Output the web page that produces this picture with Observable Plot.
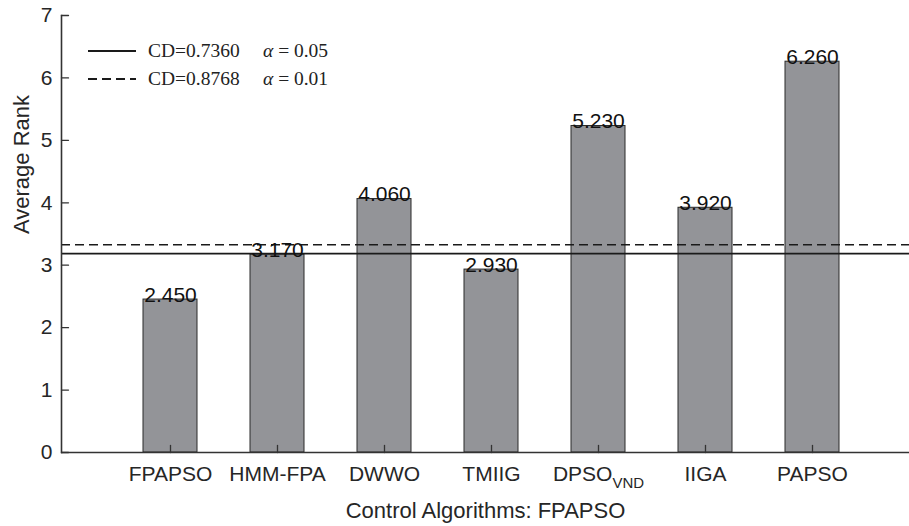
<!DOCTYPE html>
<html><head><meta charset="utf-8">
<script src="https://cdn.jsdelivr.net/npm/d3@7"></script>
<script src="https://cdn.jsdelivr.net/npm/@observablehq/plot@0.6"></script>
<style>
body{margin:0;background:#fff;}
#wrap{position:relative;width:909px;height:526px;}
#legend{position:absolute;left:88px;top:37px;font-family:"Liberation Serif","Times New Roman",serif;font-size:19.5px;color:#222;}
#legend .row{display:flex;align-items:center;height:28px;white-space:nowrap;}
#legend svg{margin-right:12px;}
#legend .cd{display:inline-block;width:115px;}
</style></head><body>
<div id="wrap"><div id="chart"></div><div id="legend"></div></div>
<script>
// ---- data ----
const algorithms = ["FPAPSO", "HMM-FPA", "DWWO", "TMIIG", "DPSO_VND", "IIGA", "PAPSO"];
const avgRanks = [2.450, 3.170, 4.060, 2.930, 5.230, 3.920, 6.260];
const controlRank = 2.450;          // FPAPSO (control algorithm)
const cdValues = [0.7360, 0.8768];
const alphaValues = [0.05, 0.01];
const cdDash = [null, "9,5"];
const yTicks = [0, 1, 2, 3, 4, 5, 6, 7];
const yLabel = "Average Rank";
const xLabel = "Control Algorithms: FPAPSO";

const rows = algorithms.map((name, i) => ({name, value: avgRanks[i]}));
const thresholds = cdValues.map((cd, i) => ({y: controlRank + cd, dash: cdDash[i]}));

const step = 107.4, x0 = 61;
const dark = "#262626";
const tickShape = {draw(context, l) { context.moveTo(0, 0); context.lineTo(0, -l); }};

const chart = Plot.plot({
  width: 909, height: 526,
  marginLeft: 61, marginRight: 0, marginTop: 15, marginBottom: 74,
  style: {fontFamily: "'Liberation Sans', Arial, sans-serif", color: dark, background: "#fff"},
  x: {type: "band", domain: algorithms, range: [x0 + 0.5 * step, x0 + 7.5 * step], paddingInner: 0.5, paddingOuter: 0.25},
  y: {domain: [0, 7]},
  marks: [
    Plot.barY(rows, {x: "name", y: "value", fill: "#939498", stroke: "#2a2a2a", strokeWidth: 1}),
    Plot.ruleY(thresholds.filter(d => !d.dash), {y: "y", stroke: "#1a1a1a", strokeWidth: 1.6}),
    Plot.ruleY(thresholds.filter(d => d.dash), {y: "y", stroke: "#1a1a1a", strokeWidth: 1.6, strokeDasharray: "9,5"}),
    Plot.text(rows, {x: "name", y: "value", text: d => d.value.toFixed(3), lineAnchor: "bottom", dy: 2, fontSize: 21, fill: "#111"}),
    Plot.axisY({ticks: yTicks, tickSize: 0, tickPadding: 9, tickFormat: "d", fontSize: 21, label: null}),
    Plot.axisX({tickSize: 0, tickPadding: 14, fontSize: 21, label: null}),
    // inward ticks
    Plot.vector(yTicks, {y: d => d, frameAnchor: "left", length: 7, rotate: 90, anchor: "start", shape: tickShape, stroke: "#333", strokeWidth: 1.3}),
    Plot.vector(rows, {x: "name", y: () => 0, length: 7, rotate: 0, anchor: "start", shape: tickShape, stroke: "#333", strokeWidth: 1.3}),
    Plot.frame({anchor: "left", stroke: "#333", strokeWidth: 1.6}),
    Plot.ruleY([0], {stroke: "#333", strokeWidth: 1.6}),
    Plot.text([yLabel], {frameAnchor: "left", dx: -40, rotate: -90, fontSize: 22, fill: dark}),
    Plot.text([xLabel], {frameAnchor: "bottom", dy: 65, fontSize: 22, fill: dark})
  ]
});
document.getElementById("chart").appendChild(chart);

// subscript for DPSO_VND tick label
d3.select(chart).selectAll("text").each(function () {
  const t = d3.select(this);
  if (this.textContent === "DPSO_VND") {
    this.textContent = "";
    t.append("tspan").text("DPSO");
    t.append("tspan").attr("dy", "0.45em").attr("font-size", "15").text("VND");
  }
});

// legend
const legend = d3.select("#legend");
thresholds.forEach((d, i) => {
  const row = legend.append("div").attr("class", "row");
  const s = row.append("svg").attr("width", 48).attr("height", 4);
  s.append("line").attr("x1", 0).attr("x2", 48).attr("y1", 2).attr("y2", 2)
    .attr("stroke", "#1a1a1a").attr("stroke-width", 1.8).attr("stroke-dasharray", d.dash);
  row.append("span").attr("class", "cd").text("CD=" + cdValues[i].toFixed(4));
  const a = row.append("span");
  a.append("i").text("α");
  a.append("span").text(" = " + alphaValues[i].toFixed(2));
});
</script>
</body></html>
